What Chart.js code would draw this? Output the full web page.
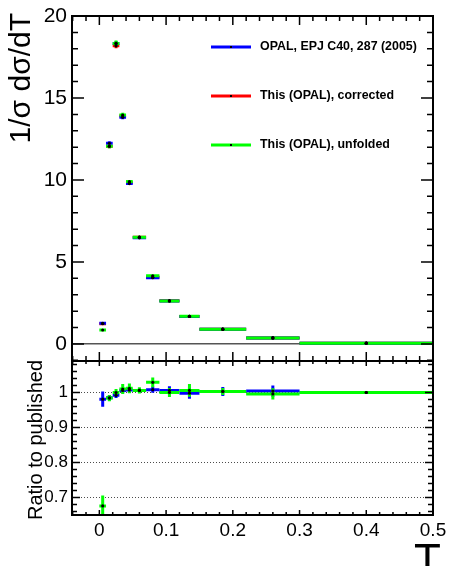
<!DOCTYPE html>
<html lang="en">
<head>
<meta charset="UTF-8">
<title>Thrust distribution</title>
<script src="https://cdn.jsdelivr.net/npm/chart.js"></script>
<style>
    body { margin: 0; background: #fff; }
    #wrap { position: relative; width: 450px; height: 566px; overflow: hidden; }
    canvas { position: absolute; left: 0; }
    #mainChart { top: 0; }
    #ratioChart { top: 360px; }
</style>
</head>
<body>
<div id="wrap">
    <canvas id="mainChart" width="450" height="362"></canvas>
    <canvas id="ratioChart" width="450" height="206"></canvas>
</div>
<script>
// thrust bins
const binLow  = [0, 0.01, 0.02, 0.03, 0.04, 0.05, 0.07, 0.09, 0.12, 0.15, 0.22, 0.30];
const binHigh = [0.01, 0.02, 0.03, 0.04, 0.05, 0.07, 0.09, 0.12, 0.15, 0.22, 0.30, 0.50];
const binMid  = [0.005, 0.015, 0.025, 0.035, 0.045, 0.06, 0.08, 0.105, 0.135, 0.185, 0.26, 0.40];

// 1/sigma dsigma/dT
const published    = [1.26, 12.24, 18.33, 13.82, 9.78, 6.47, 4.04, 2.62, 1.68, 0.90, 0.37, 0.05];
const publishedErr = [0.05, 0.12, 0.15, 0.12, 0.09, 0.05, 0.04, 0.03, 0.02, 0.01, 0.005, 0.002];
const corrected    = [1.236, 12.06, 18.18, 13.90, 9.85, 6.51, 4.07, 2.64, 1.68, 0.90, 0.37, 0.05];
const correctedErr = [0.05, 0.12, 0.15, 0.12, 0.09, 0.05, 0.04, 0.03, 0.02, 0.01, 0.005, 0.002];
const unfolded     = [0.85, 12.05, 18.33, 13.96, 9.90, 6.51, 4.16, 2.62, 1.69, 0.90, 0.37, 0.05];
const unfoldedErr  = [0.05, 0.12, 0.18, 0.14, 0.1, 0.06, 0.05, 0.03, 0.03, 0.01, 0.006, 0.002];

// ratios to the published measurement
const ratioCorrected    = [0.981, 0.985, 0.992, 1.006, 1.007, 1.006, 1.008, 1.006, 0.998, 1.003, 1.004, 1.0];
const ratioCorrectedErr = [0.022, 0.008, 0.008, 0.008, 0.008, 0.006, 0.009, 0.012, 0.016, 0.013, 0.016, 0.003];
const ratioUnfolded     = [0.676, 0.984, 1.0, 1.01, 1.012, 1.006, 1.029, 1.0, 1.006, 1.003, 0.996, 1.0];
const ratioUnfoldedErr  = [0.03, 0.009, 0.01, 0.014, 0.014, 0.009, 0.014, 0.013, 0.018, 0.01, 0.016, 0.003];

const seriesLabels = ['OPAL, EPJ C40, 287 (2005)', 'This (OPAL), corrected', 'This (OPAL), unfolded'];
const seriesColors = ['#0000ff', '#ff0000', '#00ff00'];

const mainTicks  = [0, 5, 10, 15, 20];
const ratioTicks = [0.7, 0.8, 0.9, 1];
const tTicks     = [0, 0.1, 0.2, 0.3, 0.4, 0.5];

const FONT = '"Liberation Sans", Arial, Helvetica, sans-serif';
Chart.defaults.font.family = FONT;
Chart.defaults.color = '#000';

function series(label, color, values, errors) {
    return {
        label: label,
        data: binMid.map((t, i) => ({ x: t, y: values[i] })),
        yErr: errors,
        barColor: color,
        pointRadius: 1.6,
        pointBackgroundColor: '#000',
        pointBorderWidth: 0,
        showLine: false
    };
}

// keep the plot area fixed: no extra room for labels sticking out past the ends
function noLabelPadding(s) {
    s.paddingTop = 0;
    s.paddingBottom = 0;
    s.paddingLeft = 0;
    s.paddingRight = 0;
}

// horizontal bar = bin width, vertical bar = uncertainty
const errorBars = {
    id: 'errorBars',
    beforeDatasetsDraw(chart) {
        const { ctx, chartArea: a, scales: { x, y } } = chart;
        ctx.save();
        ctx.beginPath();
        ctx.rect(a.left, a.top, a.width, a.height);
        ctx.clip();
        ctx.lineWidth = 3;
        chart.data.datasets.forEach(ds => {
            ctx.strokeStyle = ds.barColor;
            ds.data.forEach((p, i) => {
                const px = x.getPixelForValue(p.x);
                const py = y.getPixelForValue(p.y);
                ctx.beginPath();
                ctx.moveTo(x.getPixelForValue(binLow[i]), py);
                ctx.lineTo(x.getPixelForValue(binHigh[i]), py);
                ctx.moveTo(px, y.getPixelForValue(p.y - ds.yErr[i]));
                ctx.lineTo(px, y.getPixelForValue(p.y + ds.yErr[i]));
                ctx.stroke();
            });
        });
        ctx.restore();
    }
};

// frame with inward ticks on all four sides, plus axis titles
const rootFrame = {
    id: 'rootFrame',
    afterDraw(chart, args, opts) {
        const { ctx, chartArea: a, scales: { x, y } } = chart;
        const marks = (scale, minor, major) => {
            const out = [];
            const k0 = Math.ceil(scale.min / minor - 1e-6);
            const k1 = Math.floor(scale.max / minor + 1e-6);
            for (let k = k0; k <= k1; k++) {
                const v = k * minor;
                out.push({ p: scale.getPixelForValue(v), major: Math.abs(v / major - Math.round(v / major)) < 1e-6 });
            }
            return out;
        };
        ctx.save();
        ctx.strokeStyle = '#000';
        ctx.lineWidth = 1.5;
        ctx.beginPath();
        marks(y, opts.yMinor, opts.yMajor).forEach(m => {
            const len = m.major ? opts.yLen[0] : opts.yLen[1];
            ctx.moveTo(a.left, m.p); ctx.lineTo(a.left + len, m.p);
            ctx.moveTo(a.right, m.p); ctx.lineTo(a.right - len, m.p);
        });
        marks(x, opts.xMinor, opts.xMajor).forEach(m => {
            const top = m.major ? opts.xTopLen[0] : opts.xTopLen[1];
            const bot = m.major ? opts.xBottomLen[0] : opts.xBottomLen[1];
            ctx.moveTo(m.p, a.top); ctx.lineTo(m.p, a.top + top);
            ctx.moveTo(m.p, a.bottom); ctx.lineTo(m.p, a.bottom - bot);
        });
        ctx.stroke();
        ctx.lineWidth = 2;
        ctx.strokeRect(a.left, a.top, a.width, a.height);

        ctx.fillStyle = '#000';
        (opts.titles || []).forEach(t => {
            ctx.save();
            ctx.translate(t.x, t.y);
            ctx.rotate(t.rotate || 0);
            ctx.font = t.font;
            ctx.textAlign = t.align;
            ctx.textBaseline = t.baseline;
            ctx.fillText(t.text, 0, 0);
            ctx.restore();
        });
        ctx.restore();
    }
};

const legendBox = {
    id: 'legendBox',
    afterDraw(chart, args, opts) {
        const { ctx } = chart;
        ctx.save();
        seriesLabels.forEach((label, i) => {
            const yy = opts.top + i * opts.gap;
            ctx.strokeStyle = seriesColors[i];
            ctx.lineWidth = 3;
            ctx.beginPath();
            ctx.moveTo(opts.left, yy);
            ctx.lineTo(opts.left + 40, yy);
            ctx.stroke();
            ctx.fillStyle = '#000';
            ctx.fillRect(opts.left + 19, yy - 1, 2, 2);
            ctx.font = 'bold 12.4px ' + FONT;
            ctx.textAlign = 'left';
            ctx.textBaseline = 'middle';
            ctx.fillText(label, opts.left + 49, yy);
        });
        ctx.restore();
    }
};

new Chart(document.getElementById('mainChart'), {
    type: 'scatter',
    data: {
        datasets: [
            series(seriesLabels[1], seriesColors[1], corrected, correctedErr),
            series(seriesLabels[0], seriesColors[0], published, publishedErr),
            series(seriesLabels[2], seriesColors[2], unfolded, unfoldedErr)
        ]
    },
    options: {
        responsive: false,
        animation: false,
        layout: { autoPadding: false, padding: { top: 16, right: 17, bottom: 1, left: 0 } },
        scales: {
            x: { type: 'linear', min: -0.041, max: 0.5, display: false, afterFit: noLabelPadding },
            y: {
                type: 'linear', min: -1.04, max: 20,
                afterFit: s => { s.width = 72; noLabelPadding(s); },
                afterBuildTicks: s => { s.ticks = mainTicks.map(v => ({ value: v })); },
                ticks: { font: { size: 21 }, color: '#000', padding: 5, callback: v => String(v) },
                grid: { drawTicks: false, lineWidth: 1.5, color: c => (c.tick && c.tick.value === 0) ? '#555' : 'rgba(0,0,0,0)' },
                border: { display: false }
            }
        },
        plugins: {
            legend: { display: false },
            tooltip: { enabled: false },
            rootFrame: {
                yMinor: 1, yMajor: 5, yLen: [12, 6],
                xMinor: 0.02, xMajor: 0.1, xTopLen: [9, 5], xBottomLen: [9, 5],
                titles: [
                    { text: '1/\u03c3 d\u03c3/dT', x: 21.5, y: 13, rotate: -Math.PI / 2, align: 'right', baseline: 'middle', font: '30px ' + FONT }
                ]
            },
            legendBox: { left: 211, top: 47, gap: 49 }
        }
    },
    plugins: [errorBars, rootFrame, legendBox]
});

new Chart(document.getElementById('ratioChart'), {
    type: 'scatter',
    data: {
        datasets: [
            series('corrected / published', seriesColors[0], ratioCorrected, ratioCorrectedErr),
            series('unfolded / published', seriesColors[2], ratioUnfolded, ratioUnfoldedErr)
        ]
    },
    options: {
        responsive: false,
        animation: false,
        layout: { autoPadding: false, padding: { top: 1, right: 17, bottom: 0, left: 0 } },
        scales: {
            x: {
                type: 'linear', min: -0.041, max: 0.5,
                afterFit: s => { s.height = 51; noLabelPadding(s); },
                afterBuildTicks: s => { s.ticks = tTicks.map(v => ({ value: v })); },
                ticks: { font: { size: 19 }, color: '#000', padding: 4, maxRotation: 0, autoSkip: false, callback: v => String(v) },
                grid: { display: false, drawTicks: false },
                border: { display: false }
            },
            y: {
                type: 'linear', min: 0.65, max: 1.09,
                afterFit: s => { s.width = 72; noLabelPadding(s); },
                afterBuildTicks: s => { s.ticks = ratioTicks.map(v => ({ value: v })); },
                ticks: { font: { size: 17 }, color: '#000', padding: 4, callback: v => String(v) },
                grid: { drawTicks: false, lineWidth: 1, color: 'rgba(0,0,0,0.7)' },
                border: { display: false, dash: [1, 2] }
            }
        },
        plugins: {
            legend: { display: false },
            tooltip: { enabled: false },
            rootFrame: {
                yMinor: 0.02, yMajor: 0.1, yLen: [8, 5],
                xMinor: 0.02, xMajor: 0.1, xTopLen: [5, 3], xBottomLen: [5, 3],
                titles: [
                    { text: 'Ratio to published', x: 36, y: 80, rotate: -Math.PI / 2, align: 'center', baseline: 'middle', font: '20px ' + FONT },
                    { text: 'T', x: 441, y: 214.5, rotate: 0, align: 'right', baseline: 'alphabetic', font: '44px ' + FONT }
                ]
            }
        }
    },
    plugins: [errorBars, rootFrame]
});
</script>
</body>
</html>
